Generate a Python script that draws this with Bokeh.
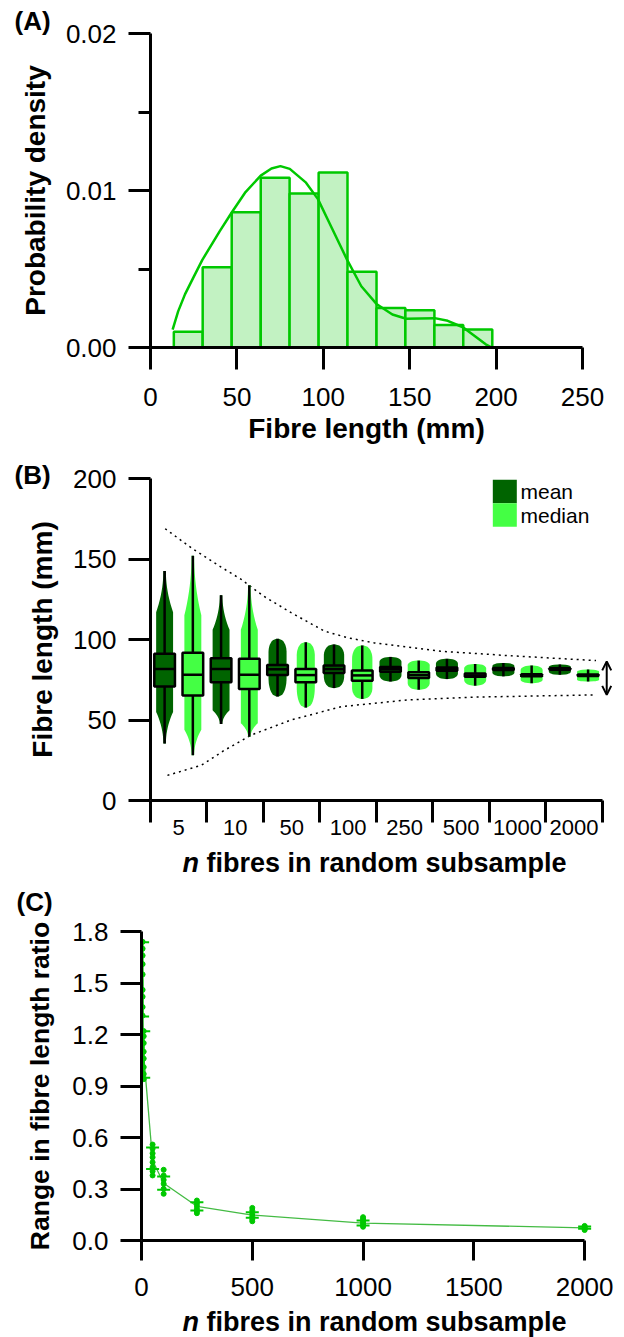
import math
from bokeh.plotting import figure
from bokeh.models import (FixedTicker, NumeralTickFormatter, Range1d, Title,
                          Arrow, OpenHead)
from bokeh.core.properties import value
from bokeh.layouts import column
from bokeh.embed import file_html
from bokeh.resources import INLINE

FONT = "Liberation Sans"

# ---------------- Panel A data ----------------
bin_edges = [13.5, 30.2, 47.0, 63.8, 80.5, 97.3, 114.0, 130.8, 147.5, 164.3, 181.0, 197.8, 214.5]
density = [0.00101, 0.00511, 0.00861, 0.01082, 0.00981, 0.01114, 0.00483,
           0.00251, 0.00238, 0.00144, 0.00114, 0.0]
kde_x = [12.8, 16, 20, 25, 30, 40, 47, 55, 63.8, 70, 75.2, 80.6, 90, 96.9, 105,
         113.8, 122, 131, 140, 148, 156, 164.5, 172, 180.8, 188, 194, 197.5]
kde_y = [0.00114, 0.0023, 0.0034, 0.0045, 0.00558, 0.0074, 0.0086, 0.0099, 0.01095,
         0.0114, 0.01155, 0.01138, 0.0105, 0.00945, 0.0076, 0.00558, 0.0039, 0.00275,
         0.0021, 0.00183, 0.00185, 0.00187, 0.0017, 0.00129, 0.0007, 0.0002, 0.0]

# ---------------- Panel B data ----------------
n_labels = ["5", "10", "50", "100", "250", "500", "1000", "2000"]
mean_q1 = [70.8, 73.5, 77.9, 79.2, 80.0, 80.6, 81.0, 81.2]
mean_q3 = [91.2, 88.3, 84.2, 83.8, 82.9, 82.6, 82.3, 82.1]
mean_med = [81.7, 81.7, 81.5, 81.6, 81.6, 81.6, 81.6, 81.6]
mean_min = [35.4, 47.5, 64.6, 69.8, 73.9, 75.4, 77.1, 78.1]
mean_max = [142.6, 127.5, 100.4, 96.9, 89.2, 88.0, 85.4, 84.4]
mean_body_lo = [55, 56, 76, 77, 78, 79, 79.5, 80]
mean_body_hi = [117, 106, 92, 90, 86, 85, 83.5, 83]

median_q1 = [65.2, 69.2, 73.5, 74.4, 76.1, 76.9, 77.2, 77.3]
median_q3 = [91.7, 88.0, 81.7, 80.8, 79.6, 78.9, 78.4, 78.2]
median_med = [78.1, 78.1, 77.9, 77.7, 77.8, 77.7, 77.7, 77.7]
median_min = [28.1, 39.6, 57.7, 63.1, 68.8, 71.3, 72.9, 73.9]
median_max = [152.0, 133.7, 98.3, 96.3, 86.9, 84.8, 83.8, 81.3]
median_body_lo = [44, 48, 70, 70, 73, 75, 75, 75]
median_body_hi = [115, 106, 90, 88, 84, 82, 81, 80]

env_upper_x = [0.26, 0.76, 1.25, 1.6, 2.0, 2.49, 3.08, 3.5, 3.96, 5.14, 6.33, 7.89]
env_upper_y = [168.8, 156, 145, 137.5, 127, 116.7, 105.2, 101, 97.9, 92.7, 90, 86.9]
env_lower_x = [0.3, 0.9, 1.3, 1.78, 2.49, 3.38, 4.56, 5.73, 7.89]
env_lower_y = [15.6, 21.9, 31, 40.6, 50, 58.3, 62.5, 64.2, 65.6]
arrow_span = [65.6, 86.4]
legend_labels = ["mean", "median"]

# ---------------- Panel C data ----------------
n_values = [5, 10, 50, 100, 250, 500, 1000, 2000]
ratio_mean = [1.52, 1.08, 0.466, 0.334, 0.199, 0.148, 0.101, 0.074]
ratio_upper = [1.737, 1.219, 0.542, 0.373, 0.223, 0.165, 0.116, 0.081]
ratio_lower = [1.305, 0.948, 0.417, 0.295, 0.175, 0.132, 0.087, 0.068]
ratio_points = [
    [1.74, 1.70, 1.66, 1.61, 1.55, 1.46, 1.42, 1.36, 1.31],
    [1.22, 1.19, 1.15, 1.10, 1.06, 1.01, 0.97, 0.94],
    [0.559, 0.534, 0.508, 0.485, 0.456, 0.427, 0.404, 0.379],
    [0.412, 0.379, 0.353, 0.330, 0.301, 0.272],
    [0.233, 0.217, 0.202, 0.185, 0.171, 0.159],
    [0.190, 0.175, 0.155, 0.140, 0.124, 0.112],
    [0.136, 0.125, 0.113, 0.102, 0.090, 0.080],
    [0.085, 0.079, 0.073, 0.067, 0.061],
]

DARK = "#006400"
LIGHT = "#44ff44"
GREEN = "#00c800"


def base_fig(height, xr, yr, left, right, top, bottom):
    p = figure(width=624, height=height, x_range=xr, y_range=yr, title=None,
               output_backend="svg", toolbar_location=None,
               min_border_left=left, min_border_right=right,
               min_border_top=top, min_border_bottom=bottom)
    p.frame_align = False
    p.outline_line_color = None
    p.grid.visible = False
    for ax in p.axis:
        ax.axis_line_width = 3
        ax.axis_line_color = "black"
        ax.major_tick_line_width = 3
        ax.major_tick_line_color = "black"
        ax.major_tick_in = 0
        ax.minor_tick_in = 0
        ax.minor_tick_line_width = 3
        ax.minor_tick_line_color = None
        ax.major_label_text_font = FONT
        ax.major_label_text_color = "black"
        ax.major_label_text_font_size = "26px"
        ax.major_label_standoff = 12
        ax.axis_label_text_font = FONT
        ax.axis_label_text_font_style = "bold"
        ax.axis_label_text_color = "black"
        ax.axis_label_text_font_size = "28px"
    return p


def strip_fig(height):
    s = figure(width=624, height=height, x_range=Range1d(0, 624), y_range=Range1d(height, 0),
               title=None, output_backend="svg", toolbar_location=None,
               x_axis_location=None, y_axis_location=None,
               min_border_left=0, min_border_right=0, min_border_top=0, min_border_bottom=0)
    s.frame_align = False
    s.outline_line_color = None
    s.grid.visible = False
    return s


def tag_title(text, standoff):
    return Title(text=text, align="left", offset=-136, standoff=standoff,
                 vertical_align="bottom", text_font=FONT, text_font_style="bold",
                 text_font_size="26px", text_color="black")


def n_title(s, xj, y):
    s.text(x=[xj], y=[y], text=["n"], text_font=value(FONT), text_font_style="bold italic",
           text_font_size=value("27px"), text_align="right", text_baseline="middle",
           text_color="black")
    s.text(x=[xj + 7.5], y=[y], text=["fibres in random subsample"], text_font=value(FONT),
           text_font_style="bold", text_font_size=value("27px"), text_align="left",
           text_baseline="middle", text_color="black")


# ================= Panel A =================
p1 = base_fig(453, Range1d(0, 250), Range1d(0, 0.02), 150, 42, 33, 106)
p1.title = tag_title("(A)", -5)
p1.quad(left=bin_edges[:-1], right=bin_edges[1:], bottom=0, top=density,
        fill_color="#c2f2c2", line_color=GREEN, line_width=2.5)
p1.line(kde_x, kde_y, line_color=GREEN, line_width=2.5)
p1.xaxis.ticker = FixedTicker(ticks=[0, 50, 100, 150, 200, 250])
p1.xaxis.major_tick_out = 22
p1.xaxis.major_label_standoff = 18
p1.xaxis.axis_label = "Fibre length (mm)"
p1.xaxis.axis_label_standoff = 4
p1.yaxis.ticker = FixedTicker(ticks=[0, 0.01, 0.02], minor_ticks=[0.005, 0.015])
p1.yaxis.formatter = NumeralTickFormatter(format="0.00")
p1.yaxis.major_tick_out = 22
p1.yaxis.minor_tick_out = 12
p1.yaxis.minor_tick_line_color = "black"
p1.yaxis.axis_label = "Probability density"
p1.yaxis.axis_label_standoff = 12

# ================= Panel B =================
p2 = base_fig(392, Range1d(0, 8.2), Range1d(0, 200), 150, 11, 25, 45)
p2.title = tag_title("(B)", -22)
p2.line(env_upper_x, env_upper_y, line_color="black", line_width=1.5, line_dash="2 4")
p2.line(env_lower_x, env_lower_y, line_color="black", line_width=1.5, line_dash="2 4")

BOX_HALF = 0.183


def cloud(xc, lo, blo, bhi, hi, hw, spiky):
    K = 10
    ys, ws = [], []
    for k in range(K + 1):
        t = k / K
        s = 1 - t
        f = (1 - s) ** 2 if spiky else math.sqrt(max(0.0, 1 - s * s))
        ys.append(lo + (blo - lo) * t)
        ws.append(hw * (0.15 + 0.85 * f))
    for k in range(K + 1):
        t = k / K
        f = (1 - t) ** 2 if spiky else math.sqrt(max(0.0, 1 - t * t))
        ys.append(bhi + (hi - bhi) * t)
        ws.append(hw * (0.15 + 0.85 * f))
    xs = [xc + w for w in ws] + [xc - w for w in reversed(ws)]
    yy = ys + list(reversed(ys))
    return xs, yy


cloud_hw = [0.15, 0.15, 0.16, 0.18, 0.195, 0.195, 0.195, 0.195]
for off, col, lo_, blo_, bhi_, hi_ in [
        (0.25, DARK, mean_min, mean_body_lo, mean_body_hi, mean_max),
        (0.75, LIGHT, median_min, median_body_lo, median_body_hi, median_max)]:
    xs_all, ys_all = [], []
    for i in range(len(n_labels)):
        xs, ys = cloud(i + off, lo_[i], blo_[i], bhi_[i], hi_[i], cloud_hw[i], i < 2)
        xs_all.append(xs)
        ys_all.append(ys)
    p2.patches(xs_all, ys_all, fill_color=col, line_color=None)

for off, col, q1, q3, med, mn, mx in [
        (0.25, DARK, mean_q1, mean_q3, mean_med, mean_min, mean_max),
        (0.75, LIGHT, median_q1, median_q3, median_med, median_min, median_max)]:
    xc = [i + off for i in range(len(n_labels))]
    p2.segment(x0=xc, y0=mn, x1=xc, y1=mx, line_color="black", line_width=2.5)
    p2.quad(left=[x - BOX_HALF for x in xc], right=[x + BOX_HALF for x in xc],
            bottom=q1, top=q3, fill_color=col, line_color="black", line_width=2.5)
    p2.segment(x0=[x - BOX_HALF for x in xc], y0=med, x1=[x + BOX_HALF for x in xc], y1=med,
               line_color="black", line_width=2.5)

# legend (drawn as glyphs)
LEG_X, LEG_TX, LEG_Y = 6.275, 6.553, [191.9, 177.3]
p2.rect(x=[LEG_X, LEG_X], y=LEG_Y, width=24, height=23.4, width_units="screen",
        height_units="screen", fill_color=[DARK, LIGHT], line_color=None)
p2.text(x=[LEG_TX, LEG_TX], y=LEG_Y, text=legend_labels, text_font=value(FONT),
        text_font_size=value("21px"), text_align="left", text_baseline="middle",
        text_color="black")

p2.add_layout(Arrow(start=OpenHead(size=9, line_width=2), end=OpenHead(size=9, line_width=2),
                    x_start=8.08, y_start=arrow_span[0], x_end=8.08, y_end=arrow_span[1],
                    line_width=2, line_color="black"))

label_ticks = [i + 0.5 for i in range(len(n_labels))]
p2.xaxis.ticker = FixedTicker(ticks=label_ticks, minor_ticks=list(range(len(n_labels) + 1)))
overrides = {}
for t, lab in zip(label_ticks, n_labels):
    overrides[t] = lab
    overrides[str(t)] = lab
p2.xaxis.major_label_overrides = overrides
p2.xaxis.major_tick_out = 0
p2.xaxis.major_tick_line_color = None
p2.xaxis.minor_tick_out = 22
p2.xaxis.minor_tick_line_color = "black"
p2.xaxis.major_label_text_font_size = "22px"
p2.xaxis.major_label_standoff = -3
p2.xaxis.bounds = (0, 8)
p2.yaxis.ticker = FixedTicker(ticks=[0, 50, 100, 150, 200])
p2.yaxis.major_tick_out = 22
p2.yaxis.axis_label = "Fibre length (mm)"
p2.yaxis.axis_label_standoff = 12

# strip between B and C: x-axis title of B and tag (C)
sb = strip_fig(73)
n_title(sb, 198.5, 17)
sb.text(x=[16], y=[56.7], text=["(C)"], text_font=value(FONT), text_font_style="bold",
        text_font_size=value("26px"), text_align="left", text_baseline="middle",
        text_color="black")

# ================= Panel C =================
p3 = base_fig(389, Range1d(0, 2040), Range1d(0, 1.8), 141, 31, 13, 67)
p3.line(n_values, ratio_mean, line_color="#44bb44", line_width=1.3)
p3.segment(x0=n_values, y0=ratio_lower, x1=n_values, y1=ratio_upper,
           line_color=GREEN, line_width=2)
p3.scatter(n_values, ratio_upper, marker="dash", size=13, line_color=GREEN, line_width=2)
p3.scatter(n_values, ratio_lower, marker="dash", size=13, line_color=GREEN, line_width=2)
px, py = [], []
for n, vals in zip(n_values, ratio_points):
    for v in vals:
        px.append(n)
        py.append(v)
p3.scatter(px, py, size=5, fill_color=GREEN, line_color=GREEN)
p3.xaxis.ticker = FixedTicker(ticks=[0, 500, 1000, 1500, 2000])
p3.xaxis.major_tick_out = 20
p3.xaxis.major_label_standoff = 17
p3.xaxis.bounds = (0, 2000)
p3.yaxis.ticker = FixedTicker(ticks=[0, 0.3, 0.6, 0.9, 1.2, 1.5, 1.8])
p3.yaxis.formatter = NumeralTickFormatter(format="0.0")
p3.yaxis.major_tick_out = 21
p3.yaxis.axis_label = "Range in fibre length ratio"
p3.yaxis.axis_label_text_font_size = "26.5px"
p3.yaxis.axis_label_standoff = 14

sc = strip_fig(30)
n_title(sc, 198.5, 14.5)

layout = column(p1, p2, sb, p3, sc, spacing=0)
open("out.html", "w").write(file_html(layout, INLINE))
